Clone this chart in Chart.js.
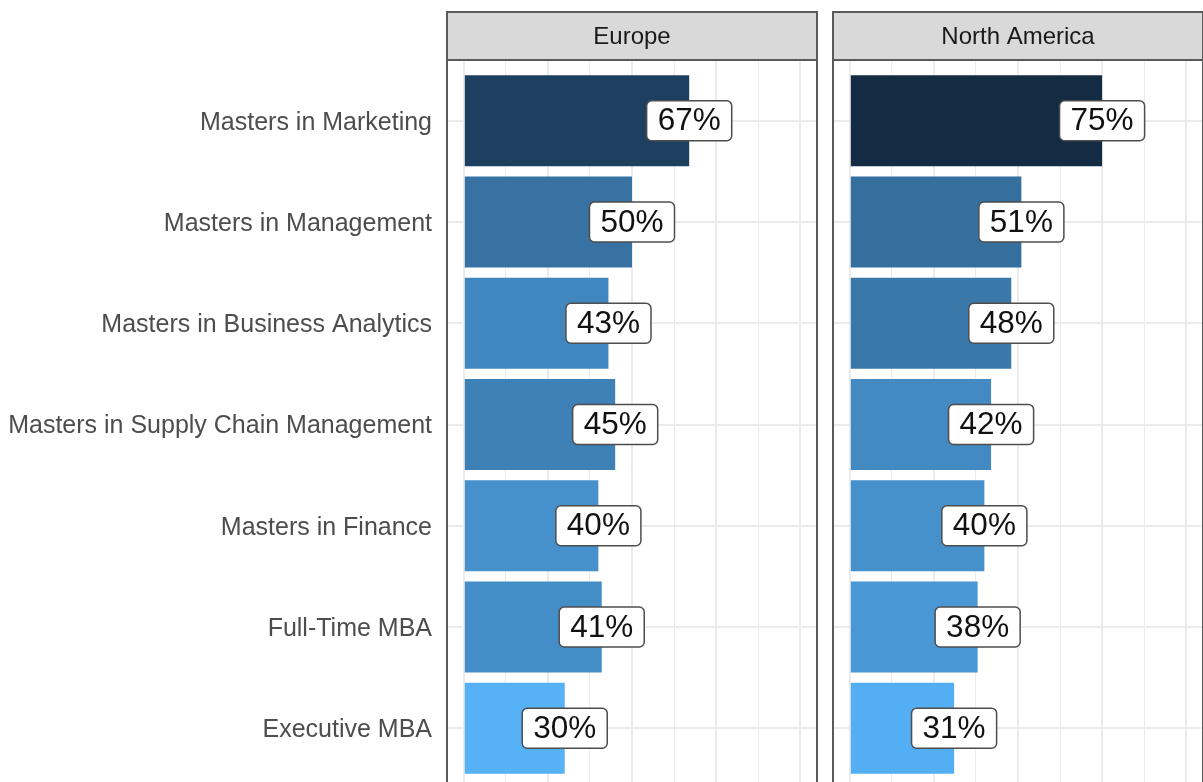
<!DOCTYPE html>
<html>
<head>
<meta charset="utf-8">
<script src="https://cdn.jsdelivr.net/npm/chart.js@4/dist/chart.umd.min.js"></script>
<style>
    html, body { margin: 0; padding: 0; background: #fff; }
    body { width: 1203px; height: 782px; overflow: hidden; position: relative; }
    canvas { position: absolute; top: 0; }
    #europeChart { left: 0; }
    #northAmericaChart { left: 820px; }
</style>
</head>
<body>
<canvas id="europeChart" width="820" height="829"></canvas>
<canvas id="northAmericaChart" width="400" height="829"></canvas>
<script>
const categories = [
    'Masters in Marketing',
    'Masters in Management',
    'Masters in Business Analytics',
    'Masters in Supply Chain Management',
    'Masters in Finance',
    'Full-Time MBA',
    'Executive MBA',
];
const europeValues = [67, 50, 43, 45, 40, 41, 30];
const northAmericaValues = [75, 51, 48, 42, 40, 38, 31];
const xGridValues = [0, 12.5, 25, 37.5, 50, 62.5, 75, 87.5, 100];
const facetNames = ['Europe', 'North America'];

const FONT = '"Liberation Sans", Arial, sans-serif';
const gridColor = '#ebebeb';

// ggplot-style gradient (low = light blue, high = dark navy), interpolated in Lab space
function toLab(hex) {
    const rgb = [1, 3, 5].map(i => parseInt(hex.slice(i, i + 2), 16) / 255)
        .map(c => c <= 0.04045 ? c / 12.92 : Math.pow((c + 0.055) / 1.055, 2.4));
    const [r, g, b] = rgb;
    const X = (0.4124 * r + 0.3576 * g + 0.1805 * b) / 0.95047;
    const Y = 0.2126 * r + 0.7152 * g + 0.0722 * b;
    const Z = (0.0193 * r + 0.1192 * g + 0.9505 * b) / 1.08883;
    const f = t => t > 0.008856 ? Math.cbrt(t) : 7.787 * t + 16 / 116;
    return [116 * f(Y) - 16, 500 * (f(X) - f(Y)), 200 * (f(Y) - f(Z))];
}

function fromLab([L, a, bb]) {
    const fy = (L + 16) / 116, fx = fy + a / 500, fz = fy - bb / 200;
    const inv = t => t * t * t > 0.008856 ? t * t * t : (t - 16 / 116) / 7.787;
    const X = inv(fx) * 0.95047, Y = inv(fy), Z = inv(fz) * 1.08883;
    const lin = [
        3.2406 * X - 1.5372 * Y - 0.4986 * Z,
        -0.9689 * X + 1.8758 * Y + 0.0415 * Z,
        0.0557 * X - 0.2040 * Y + 1.0570 * Z,
    ];
    const out = lin.map(c => c <= 0.0031308 ? 12.92 * c : 1.055 * Math.pow(c, 1 / 2.4) - 0.055)
        .map(c => Math.round(Math.min(1, Math.max(0, c)) * 255));
    return `rgb(${out[0]}, ${out[1]}, ${out[2]})`;
}

const lowLab = toLab('#56B1F7');
const highLab = toLab('#132B43');
const allValues = europeValues.concat(northAmericaValues);
const vMin = Math.min(...allValues);
const vMax = Math.max(...allValues);

function fillFor(v) {
    const t = (v - vMin) / (vMax - vMin);
    return fromLab(lowLab.map((c, i) => c + (highLab[i] - c) * t));
}

// strip on top + panel border
const facetStrip = {
    id: 'facetStrip',
    afterDraw(chart, args, opts) {
        const { ctx, chartArea: a } = chart;
        ctx.save();
        ctx.fillStyle = '#d9d9d9';
        ctx.fillRect(a.left, 12, a.right - a.left, a.top - 12);
        ctx.strokeStyle = '#5a5a5a';
        ctx.lineWidth = 2;
        ctx.strokeRect(a.left, 12, a.right - a.left, a.top - 12);
        ctx.strokeRect(a.left, a.top, a.right - a.left, a.bottom - a.top);
        ctx.fillStyle = '#1a1a1a';
        ctx.font = '24px ' + FONT;
        ctx.textAlign = 'center';
        ctx.textBaseline = 'middle';
        ctx.fillText(opts.title, (a.left + a.right) / 2, (12 + a.top) / 2 + 1);
        ctx.restore();
    },
};

// value labels in rounded white boxes, centred on the bar end
const valueLabels = {
    id: 'valueLabels',
    afterDatasetsDraw(chart) {
        const ctx = chart.ctx;
        const meta = chart.getDatasetMeta(0);
        const data = chart.data.datasets[0].data;
        ctx.save();
        ctx.font = '31.5px ' + FONT;
        ctx.textAlign = 'center';
        ctx.textBaseline = 'middle';
        meta.data.forEach((bar, i) => {
            const text = data[i].x + '%';
            const w = ctx.measureText(text).width + 22;
            const h = 40;
            ctx.beginPath();
            ctx.roundRect(bar.x - w / 2, bar.y - h / 2, w, h, 5);
            ctx.fillStyle = '#ffffff';
            ctx.fill();
            ctx.strokeStyle = '#4d4d4d';
            ctx.lineWidth = 1.5;
            ctx.stroke();
            ctx.fillStyle = '#111111';
            ctx.fillText(text, bar.x, bar.y + 1);
        });
        ctx.restore();
    },
};

function makeFacet(canvasId, values, title, showLabels, padding) {
    return new Chart(document.getElementById(canvasId), {
        type: 'bar',
        data: {
            datasets: [{
                data: values.map((v, i) => ({ x: v, y: i })),
                backgroundColor: values.map(fillFor),
                borderWidth: 0,
                categoryPercentage: 0.9,
                barPercentage: 1,
            }],
        },
        options: {
            indexAxis: 'y',
            responsive: false,
            animation: false,
            layout: { padding },
            scales: {
                x: {
                    type: 'linear',
                    min: -5,
                    max: 105,
                    afterBuildTicks: (scale) => {
                        scale.ticks = xGridValues.map(value => ({ value }));
                    },
                    afterFit: (scale) => { scale.height = 0; },
                    ticks: { display: false },
                    border: { display: false },
                    grid: {
                        color: gridColor,
                        lineWidth: (ctx) => (ctx.tick && ctx.tick.value % 25 === 0) ? 2 : 1,
                        drawTicks: false,
                    },
                },
                y: {
                    type: 'linear',
                    reverse: true,
                    offset: false,
                    min: -0.6,
                    max: categories.length - 0.4,
                    afterBuildTicks: (scale) => {
                        scale.ticks = categories.map((c, i) => ({ value: i }));
                    },
                    afterFit: (scale) => { scale.width = showLabels ? 447 : 0; },
                    ticks: {
                        display: showLabels,
                        padding: 15,
                        labelOffset: 2,
                        color: '#4d4d4d',
                        font: { family: FONT, size: 25 },
                        callback: (value) => categories[value],
                    },
                    border: { display: false },
                    grid: { color: gridColor, lineWidth: 2, drawTicks: false, offset: false },
                },
            },
            plugins: {
                legend: { display: false },
                tooltip: { enabled: false },
                facetStrip: { title },
            },
        },
        plugins: [valueLabels, facetStrip],
    });
}

makeFacet('europeChart', europeValues, facetNames[0], true,
    { left: 0, right: 3, top: 60, bottom: 40 });
makeFacet('northAmericaChart', northAmericaValues, facetNames[1], false,
    { left: 13, right: 17, top: 60, bottom: 40 });
</script>
</body>
</html>
